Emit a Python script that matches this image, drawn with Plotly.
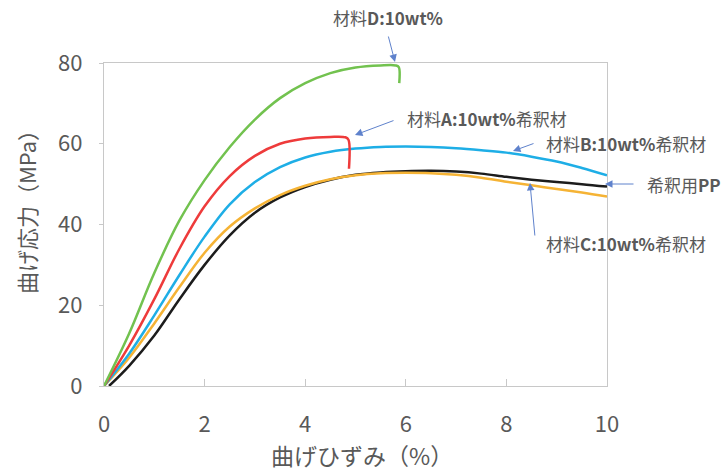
import plotly.graph_objects as go

# Flexural stress-strain curves (strain %, stress MPa)
strain_D = [0, 0.5, 1.0, 1.5, 2.0, 2.5, 3.0, 3.5, 4.0, 4.5, 5.0, 5.5, 5.8, 5.86, 5.87]
stress_D = [0, 13, 28, 41, 51, 59.2, 66, 71.3, 75.0, 77.5, 78.9, 79.4, 79.4, 79.0, 75.0]

strain_A = [0, 0.5, 1.0, 1.5, 2.0, 2.5, 3.0, 3.5, 4.0, 4.5, 4.8, 4.86, 4.87]
stress_A = [0, 10, 21.5, 34, 44.5, 52, 57, 60, 61.3, 61.7, 61.6, 61.0, 53.8]

strain_B = [0, 0.5, 1.0, 1.5, 2.0, 2.5, 3.0, 3.5, 4.0, 4.5, 5.0, 5.5, 6.0, 6.5, 7.0, 7.5, 8.0, 8.5, 9.0, 9.5, 10]
stress_B = [0, 8, 17.5, 27.5, 37, 45, 50.5, 54.2, 56.6, 58.0, 58.8, 59.2, 59.3, 59.2, 58.9, 58.4, 57.8, 56.8, 55.6, 54.0, 52.2]

strain_C = [0, 0.5, 1.0, 1.5, 2.0, 2.5, 3.0, 3.5, 4.0, 4.5, 5.0, 5.5, 6.0, 6.5, 7.0, 7.5, 8.0, 8.5, 9.0, 9.5, 10]
stress_C = [0, 7, 15.5, 24.5, 33, 39.5, 44.0, 47.3, 49.6, 51.2, 52.2, 52.7, 52.8, 52.7, 52.3, 51.6, 50.6, 49.7, 48.8, 47.9, 46.9]

strain_PP = [0.1, 0.5, 1.0, 1.5, 2.0, 2.5, 3.0, 3.5, 4.0, 4.5, 5.0, 5.5, 6.0, 6.5, 7.0, 7.5, 8.0, 8.5, 9.0, 9.5, 10]
stress_PP = [0, 5, 12.5, 21.5, 30, 37.3, 42.9, 46.7, 49.3, 51.1, 52.3, 52.9, 53.2, 53.3, 53.1, 52.6, 51.8, 51.1, 50.5, 50.0, 49.4]

x_ticks = [0, 2, 4, 6, 8, 10]
y_ticks = [0, 20, 40, 60, 80]

series = [
    (strain_PP, stress_PP, "#1c1c1c"),
    (strain_C, stress_C, "#f5b335"),
    (strain_B, stress_B, "#1eaee6"),
    (strain_A, stress_A, "#ee3b3b"),
    (strain_D, stress_D, "#72c24f"),
]

# Plot area in pixels (left, right, top, bottom)
W, H = 722, 472
L, R, T, B = 104, 607, 63, 386


def to_paper(px, py):
    return (px - L) / (R - L), (B - py) / (B - T)


# callout: text, text centre (px), arrow tip (px), arrow tail (px)
callouts = [
    ("材料<b>D:10wt%</b>", (388, 18), (395, 62), (388, 35)),
    ("材料<b>A:10wt%</b>希釈材", (487, 118), (355, 135), (395, 120)),
    ("材料<b>B:10wt%</b>希釈材", (626, 143), (513, 151), (535, 143)),
    ("希釈用<b>PP</b>", (684, 184), (605, 184), (635, 184)),
    ("材料<b>C:10wt%</b>希釈材", (626, 243), (530, 183), (535, 237)),
]

FONT = "Noto Sans CJK JP"
GREY = "#595959"

fig = go.Figure()
for xs, ys, col in series:
    fig.add_trace(go.Scatter(
        x=xs, y=ys, mode="lines",
        line=dict(color=col, width=2.5, shape="spline", smoothing=1.0),
        showlegend=False, hoverinfo="skip",
    ))

for text, pos, tip, tail in callouts:
    tx, ty = to_paper(*tip)
    fig.add_annotation(
        x=tx, y=ty, xref="paper", yref="paper",
        ax=tail[0] - tip[0], ay=tail[1] - tip[1],
        text="", showarrow=True, arrowhead=2, arrowsize=1.5,
        arrowwidth=1.0, arrowcolor="#5f82cc",
    )
    lx, ly = to_paper(*pos)
    fig.add_annotation(
        x=lx, y=ly, xref="paper", yref="paper",
        xanchor="center", yanchor="middle",
        text=text, showarrow=False,
        font=dict(family=FONT, size=17, color=GREY),
    )

# axis titles
tx, ty = to_paper(362, 455)
fig.add_annotation(
    x=tx, y=ty, xref="paper", yref="paper", xanchor="center", yanchor="middle",
    text="曲げひずみ（%）", showarrow=False,
    font=dict(family=FONT, size=23, color=GREY),
)
tx, ty = to_paper(26, 207)
fig.add_annotation(
    x=tx, y=ty, xref="paper", yref="paper", xanchor="center", yanchor="middle",
    text="曲げ応力（MPa）", showarrow=False, textangle=-90,
    font=dict(family=FONT, size=22, color=GREY),
)

axis_common = dict(
    showline=True, linecolor="#c8c8c8", linewidth=1.2, mirror=True,
    showgrid=False, zeroline=False,
    tickfont=dict(family=FONT, size=22, color=GREY),
    tickcolor="#c8c8c8", tickwidth=1.2,
)

fig.update_xaxes(
    range=[0, 10], tickvals=x_ticks, ticks="inside", ticklen=7,
    ticklabelstandoff=18, **axis_common,
)
fig.update_yaxes(
    range=[0, 80], tickvals=y_ticks, ticks="outside", ticklen=4,
    ticklabelstandoff=12, **axis_common,
)

fig.update_layout(
    width=W, height=H,
    margin=dict(l=L, r=W - R, t=T, b=H - B),
    paper_bgcolor="white", plot_bgcolor="white",
)

fig.write_html("out.html")
